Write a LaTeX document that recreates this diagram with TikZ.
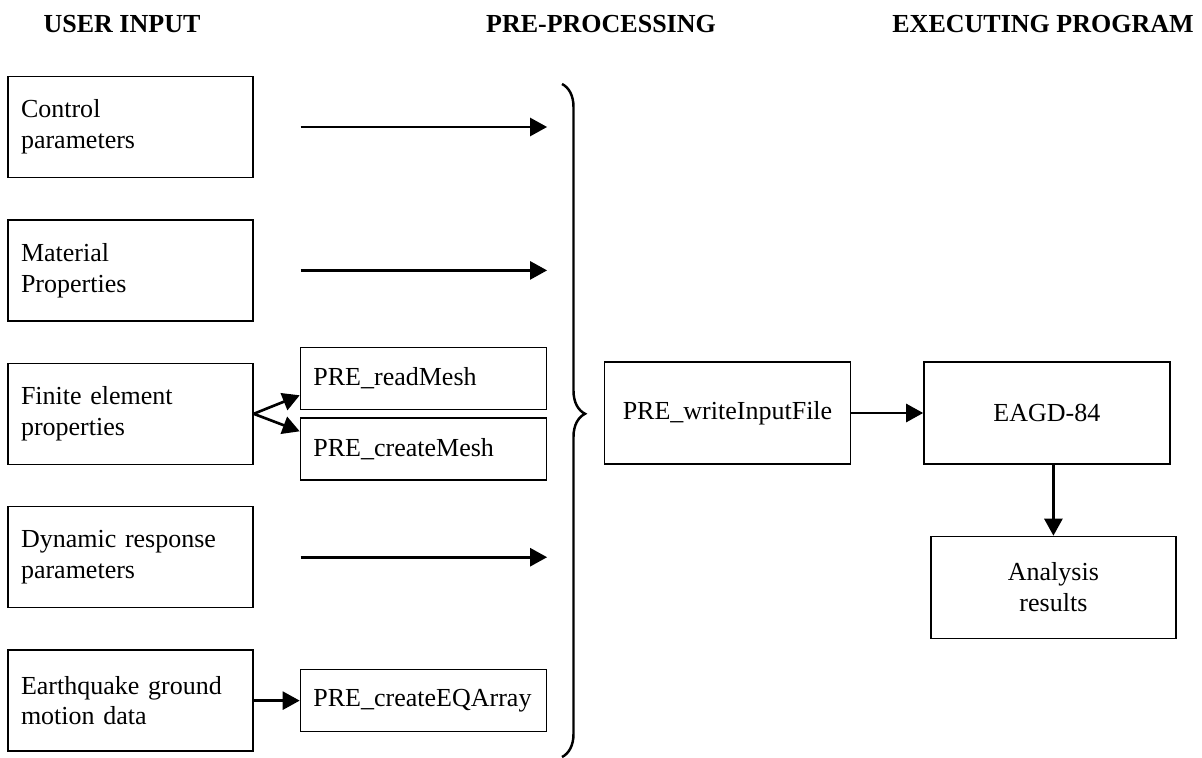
\documentclass[tikz,border=0pt]{standalone}
\usepackage{fontspec}
\setmainfont{Liberation Serif}
\usepackage{tikz}
\usetikzlibrary{arrows.meta,positioning,decorations.pathreplacing}

\begin{document}
\begin{tikzpicture}[
inbox/.style={draw, line width=0.8pt, minimum width=4.9cm, minimum height=2.02cm, text width=4.38cm, inner xsep=0.26cm, align=left, font=\fontsize{14.8}{17.6}\selectfont},
subbox/.style={draw, line width=0.8pt, minimum width=4.92cm, minimum height=1.24cm, text width=4.4cm, inner xsep=0.26cm, align=left, font=\fontsize{14.8}{17.6}\selectfont},
progbox/.style={draw, line width=0.8pt, minimum width=4.92cm, minimum height=2.04cm, align=center, font=\fontsize{14.8}{17.6}\selectfont},
head/.style={font=\fontsize{14.8}{17.6}\selectfont\bfseries, inner sep=0pt},
arr/.style={-{Triangle[length=3.4mm, width=3.6mm]}, line width=1.5pt}
]
\useasboundingbox (0,0) rectangle (24.04,-15.16);

% Column headings
\node[head] (hin) at (2.44,-0.48) {USER INPUT};
\node[head] (hpre) at (12.02,-0.48) {PRE-PROCESSING};
\node[head, anchor=east] (hexe) at (23.88,-0.48) {EXECUTING PROGRAM};

% User input
\node[inbox] (ctrl) at (2.61,-2.54) {Control\\parameters};
\node[inbox, below=0.82cm of ctrl] (mat) {Material\\Properties};
\node[inbox, below=0.82cm of mat] (fe) {Finite element\\properties};
\node[inbox, below=0.82cm of fe] (dyn) {Dynamic response\\parameters};
\node[inbox, below=0.82cm of dyn] (eq) {Earthquake ground\\motion data};

% Pre-processing
\node[subbox, anchor=south west] (rmesh) at ([xshift=0.92cm, yshift=0.07cm]fe.east) {PRE\_readMesh};
\node[subbox, anchor=north west] (cmesh) at ([xshift=0.92cm, yshift=-0.07cm]fe.east) {PRE\_createMesh};
\node[subbox, right=0.92cm of eq] (eqarr) {PRE\_createEQArray};
\node[progbox] (write) at (14.55,-8.26) {PRE\_writeInputFile};

% Executing program
\node[progbox, right=1.44cm of write] (eagd) {EAGD-84};
\node[progbox, minimum width=4.9cm, below=1.42cm of eagd, xshift=0.13cm] (res) {Analysis\\results};

% Arrows
\draw[arr] ([xshift=0.94cm]ctrl.east) -- (ctrl.east -| rmesh.east);
\draw[arr] ([xshift=0.94cm]mat.east) -- (mat.east -| rmesh.east);
\draw[arr] ([xshift=0.94cm]dyn.east) -- (dyn.east -| rmesh.east);
\draw[arr] (fe.east) -- ([yshift=0.3cm]rmesh.south west);
\draw[arr] (fe.east) -- ([yshift=-0.28cm]cmesh.north west);
\draw[arr] (eq) -- (eqarr);
\draw[arr] (write) -- (eagd);
\draw[arr] (eagd.south -| res.north) -- (res.north);

% Brace
\draw[line width=1.4pt, decorate, decoration={brace, amplitude=0.46cm, aspect=0.49}] (11.24,-1.68) -- (11.24,-15.14);
\end{tikzpicture}
\end{document}
